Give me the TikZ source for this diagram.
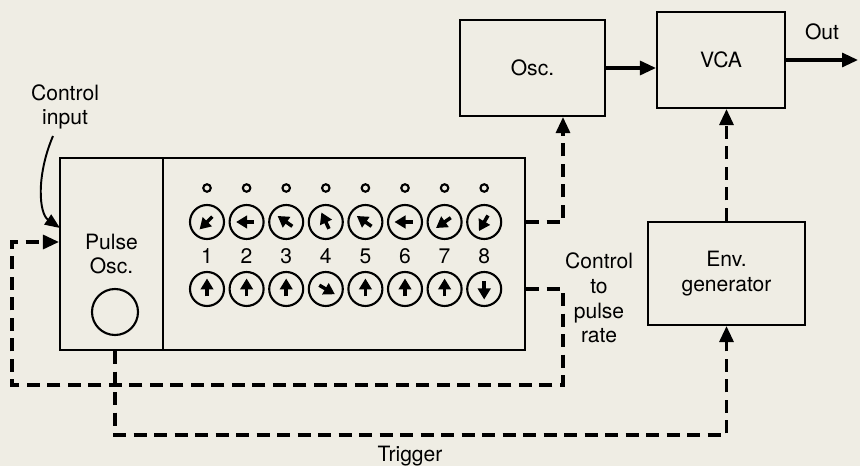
\documentclass[tikz,border=0pt]{standalone}
\usepackage{fontspec}
\setmainfont{TeX Gyre Heros}
\usetikzlibrary{arrows.meta, positioning, calc}
\definecolor{cPaper}{RGB}{239,237,228}
\tikzset{
	box/.style    ={rectangle, draw=black, line width=1.2pt, align=center},
	knob/.style   ={circle, draw=black, line width=1.2pt, minimum size=0.68cm, inner sep=0pt},
	lamp/.style   ={circle, draw=black, line width=1.2pt, minimum size=0.15cm, inner sep=0pt},
	knobarr/.style={-{Triangle[length=2.2mm, width=2.5mm]}, line width=2pt},
	sig/.style    ={-{Triangle[length=3.2mm, width=2.8mm]}, line width=1.8pt},
	ctl/.style    ={sig, dash pattern=on 2.6mm off 1.5mm},
	lbl/.style    ={align=center, inner sep=1pt},
}

\begin{document}
\begin{tikzpicture}[font=\large]
	\fill[cPaper] (0,0) rectangle (17.2,9.32);
	\useasboundingbox (0,0) rectangle (17.2,9.32);
	% sequencer unit
	\node[box, minimum width=2.06cm, minimum height=3.84cm] (pulse) at (2.23,4.24) {Pulse\\Osc.};
	\node[box, minimum width=7.24cm, minimum height=3.84cm] (panel) at (6.88,4.24) {};
	\node[knob, minimum size=0.92cm] (dial) at (2.3,3.08) {};
	\foreach \i/\a/\b in {1/225/90, 2/180/90, 3/145/90, 4/115/-30, 5/145/90, 6/180/90, 7/215/90, 8/240/270} {
		\pgfmathsetmacro\xx{4.14+0.792*(\i-1)}
		\node[lamp] (d\i) at (\xx,5.56) {};
		\node[knob] (t\i) at (\xx,4.88) {};
		\node (n\i) at (\xx,4.2) {\i};
		\node[knob] (b\i) at (\xx,3.54) {};
		\draw[knobarr] ($(t\i)+(180+\a:0.15)$) -- ($(t\i)+(\a:0.21)$);
		\draw[knobarr] ($(b\i)+(180+\b:0.15)$) -- ($(b\i)+(\b:0.21)$);
	}
	% voice
	\node[box, minimum width=2.9cm, minimum height=1.92cm] (osc) at (10.65,7.96) {Osc.};
	\node[box, minimum width=2.56cm, minimum height=1.92cm] (vca) at (14.42,8.12) {VCA};
	\node[box, minimum width=3.14cm, minimum height=2.06cm] (env) at (14.53,3.85) {Env.\\generator};
	\coordinate (out) at (17.16,8.2);
	\node[lbl] (outl) at (16.44,8.68) {Out};
	\draw[sig] (osc.east) -- (osc.east -| vca.west);
	\draw[sig] (vca.east) -- (vca.east -| out);
	% control lines
	\coordinate (c1) at (11.26,4.88);
	\draw[ctl] (panel.east |- c1) -- (c1) -- (c1 |- osc.south);
	\draw[ctl] (env.north) -- (env.north |- vca.south);
	\coordinate (c2) at (11.26,3.54);
	\coordinate (c3) at (0.24,1.62);
	\coordinate (c4) at (0.24,4.48);
	\draw[ctl] (panel.east |- c2) -- (c2) -- (c2 |- c3) -- (c3) -- (c4) -- (c4 -| pulse.west);
	\node[lbl] (rate) at (11.98,3.36) {Control\\to\\pulse\\rate};
	\coordinate (c5) at (2.3,0.62);
	\draw[ctl] (dial |- pulse.south) -- (c5) -- (c5 -| env.south) -- (env.south);
	\node[lbl] (trig) at (8.2,0.2) {Trigger};
	% external input
	\node[lbl] (cin) at (1.3,7.18) {Control\\input};
	\coordinate (c6) at (1.2,4.76);
	\draw[-{Triangle[length=3mm, width=2.4mm]}, line width=1.1pt] (1.06,6.6) .. controls (0.72,5.8) and (0.78,5.05) .. (c6);
\end{tikzpicture}
\end{document}
